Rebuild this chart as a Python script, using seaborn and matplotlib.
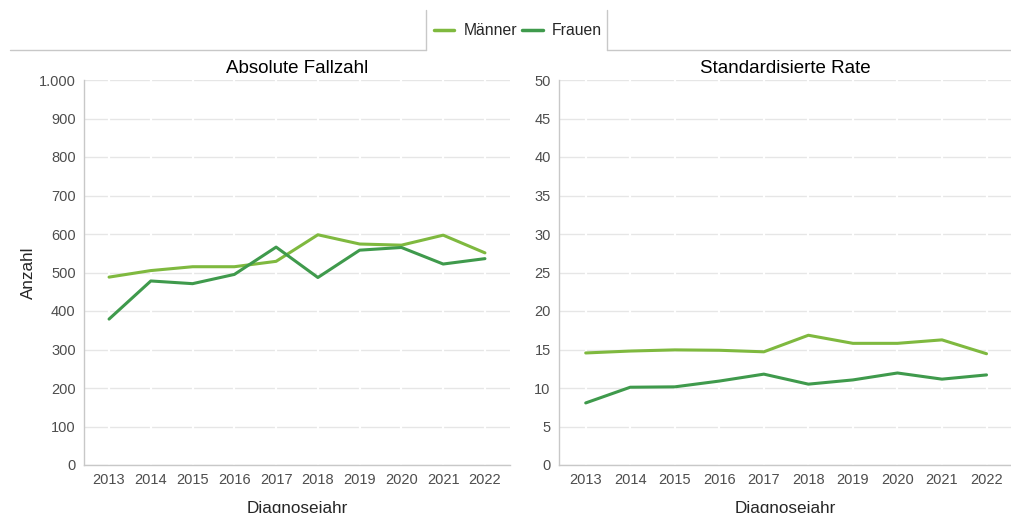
import numpy as np
import pandas as pd
import seaborn as sns
import matplotlib.pyplot as plt
from matplotlib.lines import Line2D
from matplotlib.ticker import FuncFormatter

years = [2013, 2014, 2015, 2016, 2017, 2018, 2019, 2020, 2021, 2022]
abs_maenner = [488, 505, 515, 515, 529, 598, 574, 571, 597, 551]
abs_frauen = [379, 478, 471, 495, 566, 487, 558, 565, 522, 536]
rate_maenner = [14.55, 14.8, 14.95, 14.9, 14.7, 16.85, 15.8, 15.8, 16.25, 14.45]
rate_frauen = [8.06, 10.1, 10.15, 10.9, 11.8, 10.5, 11.05, 11.95, 11.15, 11.7]
sexes = ["Männer", "Frauen"]
colors = {"Männer": "#7FB93F", "Frauen": "#3F9A4C"}

df_abs = pd.DataFrame({"Jahr": years * 2,
                       "Wert": abs_maenner + abs_frauen,
                       "Geschlecht": ["Männer"] * 10 + ["Frauen"] * 10})
df_rate = pd.DataFrame({"Jahr": years * 2,
                        "Wert": rate_maenner + rate_frauen,
                        "Geschlecht": ["Männer"] * 10 + ["Frauen"] * 10})

sns.set_style("white")
plt.rcParams['font.family'] = ['Liberation Sans', 'DejaVu Sans']

fig = plt.figure(figsize=(10.11, 5.13), dpi=100)
ax1 = fig.add_axes([84 / 1011, 1 - 465 / 513, (510 - 84) / 1011, 385 / 513])
ax2 = fig.add_axes([559 / 1011, 1 - 465 / 513, (1011 - 559) / 1011, 385 / 513])

panels = [(ax1, df_abs, "Absolute Fallzahl", 1000, 100, "Anzahl"),
          (ax2, df_rate, "Standardisierte Rate", 50, 5, "")]

for ax, df, title, ymax, step, ylab in panels:
    sns.lineplot(data=df, x="Jahr", y="Wert", hue="Geschlecht", hue_order=sexes,
                 palette=colors, linewidth=2.2, ax=ax, legend=False, zorder=3)
    ax.set_xlim(2012.4, 2022.6 if ax is ax1 else 2022.55)
    ax.set_ylim(0, ymax)
    ax.set_xticks(years)
    ax.set_yticks(np.arange(0, ymax + step / 2, step))
    if ymax == 1000:
        ax.yaxis.set_major_formatter(FuncFormatter(lambda v, p: f"{int(v):,}".replace(",", ".")))
    ax.set_axisbelow(True)
    ax.grid(axis="y", color="#E6E6E6", linewidth=1.0)
    for yr in years:
        ax.axvline(yr, color="white", linewidth=1.6, zorder=1)
    for s in ["top", "right"]:
        ax.spines[s].set_visible(False)
    for s in ["left", "bottom"]:
        ax.spines[s].set_color("#C8C8C8")
        ax.spines[s].set_linewidth(1.0)
    ax.tick_params(axis="both", length=3, color="#333333", width=1,
                   labelsize=10.5, labelcolor="#4D4D4D", pad=3)
    ax.set_title(title, fontsize=13.5, color="black", pad=5)
    ax.set_xlabel("Diagnosejahr", fontsize=12.3, labelpad=10)
    ax.set_ylabel(ylab, fontsize=12.3, labelpad=2)

# legend box at top
handles = [Line2D([0], [0], color=colors[s], linewidth=2.5) for s in sexes]
fig.legend(handles, sexes, loc="center", bbox_to_anchor=(518 / 1011, 1 - 31 / 513),
           ncol=2, frameon=False, fontsize=11.3, handlelength=1.3,
           handletextpad=0.6, columnspacing=0.3)
yl = 1 - 50 / 513
yt = 1 - 10 / 513
for xs, ys in [([10 / 1011, 426 / 1011], [yl, yl]),
               ([607 / 1011, 1.0], [yl, yl]),
               ([426 / 1011, 426 / 1011], [yl, yt]),
               ([607 / 1011, 607 / 1011], [yl, yt])]:
    fig.add_artist(Line2D(xs, ys, color="#C8C8C8", linewidth=1.0,
                          transform=fig.transFigure))

fig.savefig("out.png", dpi=100)
